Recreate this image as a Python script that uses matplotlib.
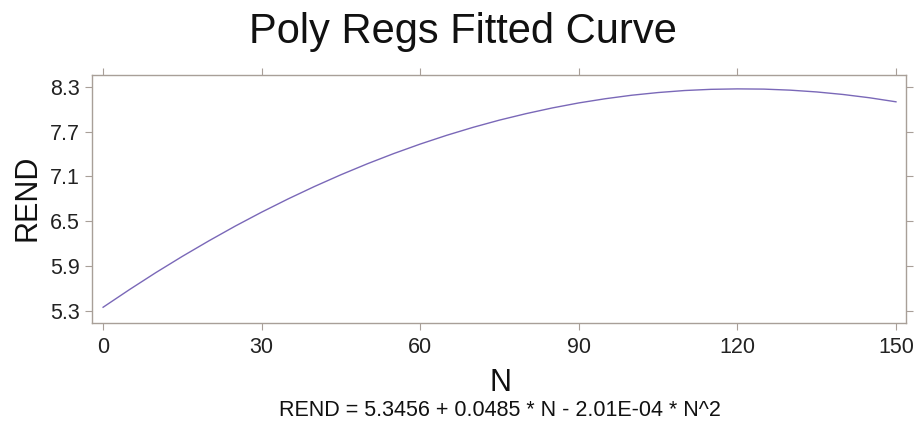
import matplotlib
matplotlib.use("Agg")
import matplotlib.pyplot as plt

N_values = [0, 5, 10, 15, 20, 25, 30, 35, 40, 45, 50, 55, 60, 65, 70, 75, 80, 85, 90,
            95, 100, 105, 110, 115, 120, 125, 130, 135, 140, 145, 150]
REND_values = [5.346, 5.583, 5.811, 6.028, 6.235, 6.433, 6.620, 6.797, 6.964, 7.121,
               7.268, 7.405, 7.532, 7.649, 7.756, 7.853, 7.939, 8.016, 8.083, 8.139,
               8.186, 8.222, 8.249, 8.265, 8.271, 8.268, 8.254, 8.230, 8.196, 8.152, 8.098]
x_ticks = [0, 30, 60, 90, 120, 150]
y_ticks = [5.3, 5.9, 6.5, 7.1, 7.7, 8.3]
y_tick_labels = ["5.3", "5.9", "6.5", "7.1", "7.7", "8.3"]
title = "Poly Regs Fitted Curve"
x_label = "N"
y_label = "REND"
equation = "REND = 5.3456 + 0.0485 * N - 2.01E-04 * N^2"

plt.rcParams['font.family'] = ['Liberation Sans', 'DejaVu Sans']

fig = plt.figure(figsize=(9.15, 4.29), dpi=100)
ax = fig.add_axes([92/915, 1 - 323/429, (906-92)/915, (323-75)/429])

ax.plot(N_values, REND_values, color='#7a68b8', linewidth=1.0)

ax.set_xlim(-2.1, 151.9)
ax.set_ylim(5.135, 8.457)
ax.set_xticks(x_ticks)
ax.set_yticks(y_ticks)
ax.set_yticklabels(y_tick_labels)

frame_color = '#a89f98'
for s in ax.spines.values():
    s.set_color(frame_color)
    s.set_linewidth(1.0)
ax.tick_params(axis='both', which='both', direction='out', length=5, color=frame_color,
               labelsize=15.5, labelcolor='#222222', top=True, right=True)
ax.tick_params(axis='x', pad=5)
ax.tick_params(axis='y', pad=4)

fig.text(463/915, 1 - 32/429, title, ha='center', va='center', fontsize=30, color='#111111')
fig.text(500/915, 1 - 383/429, x_label, ha='center', va='center', fontsize=22, color='#111111')
fig.text(28/915, 1 - 198/429, y_label, ha='center', va='center', rotation=90, fontsize=22, color='#111111')
fig.text(500/915, 1 - 411/429, equation, ha='center', va='center', fontsize=15.5, color='#111111')

fig.savefig("out.png", dpi=100)
